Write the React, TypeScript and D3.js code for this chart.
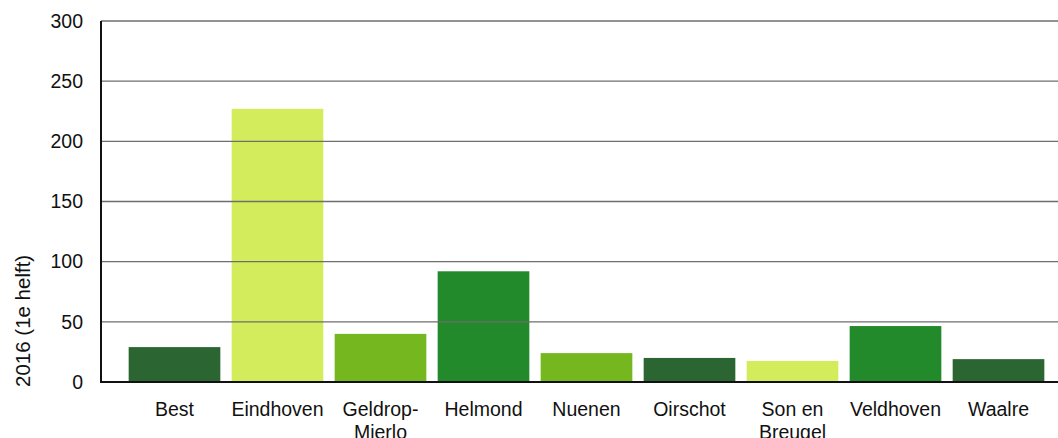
import * as d3 from "d3";
import { useEffect, useRef } from "react";

const categories = [
  ["Best"],
  ["Eindhoven"],
  ["Geldrop-", "Mierlo"],
  ["Helmond"],
  ["Nuenen"],
  ["Oirschot"],
  ["Son en", "Breugel"],
  ["Veldhoven"],
  ["Waalre"],
];
const values = [29, 227, 40, 92, 24, 20, 17.5, 46.5, 19];
const barColors = [
  "#2b6531",
  "#d3ec5c",
  "#74b71f",
  "#238a2b",
  "#74b71f",
  "#2b6531",
  "#d3ec5c",
  "#238a2b",
  "#2b6531",
];
const yTicks = [0, 50, 100, 150, 200, 250, 300];
const yTitle = "2016 (1e helft)";

const App = () => {
  const ref = useRef<SVGSVGElement | null>(null);

  useEffect(() => {
    document.body.style.margin = "0";
    const svg = d3.select(ref.current);
    svg.selectAll("*").remove();

    const width = 1058,
      height = 438;
    const left = 101,
      top = 21,
      bottom = 382;

    const x = d3
      .scaleBand<number>()
      .domain(d3.range(values.length))
      .range([123, 1050])
      .paddingInner(0.11)
      .paddingOuter(0.055);
    const y = d3.scaleLinear().domain([0, 300]).range([bottom, top]);

    svg.attr("width", width).attr("height", height).style("display", "block");
    svg.append("rect").attr("width", width).attr("height", height).attr("fill", "#fff");

    svg
      .append("g")
      .selectAll("rect")
      .data(values)
      .enter()
      .append("rect")
      .attr("x", (d, i) => x(i)!)
      .attr("y", (d) => y(d))
      .attr("width", x.bandwidth())
      .attr("height", (d) => y(0) - y(d))
      .attr("fill", (d, i) => barColors[i]);

    // gridlines sit on top of the bars
    svg
      .append("g")
      .selectAll("line")
      .data(yTicks.filter((t) => t > 0))
      .enter()
      .append("line")
      .attr("x1", left)
      .attr("x2", width)
      .attr("y1", (d) => y(d))
      .attr("y2", (d) => y(d))
      .attr("stroke", "#6e6e6e")
      .attr("stroke-width", 1.4);

    svg
      .append("line")
      .attr("x1", left)
      .attr("x2", left)
      .attr("y1", top)
      .attr("y2", bottom)
      .attr("stroke", "#111")
      .attr("stroke-width", 2);
    svg
      .append("line")
      .attr("x1", left - 1)
      .attr("x2", width)
      .attr("y1", bottom)
      .attr("y2", bottom)
      .attr("stroke", "#111")
      .attr("stroke-width", 2);

    const font = "Liberation Sans, Arial, sans-serif";

    svg
      .append("g")
      .selectAll("text")
      .data(yTicks)
      .enter()
      .append("text")
      .attr("x", 83)
      .attr("y", (d) => y(d))
      .attr("dy", "0.35em")
      .attr("text-anchor", "end")
      .attr("font-family", font)
      .attr("font-size", 19.5)
      .attr("fill", "#111")
      .text((d) => d);

    const labels = svg
      .append("g")
      .selectAll("text")
      .data(categories)
      .enter()
      .append("text")
      .attr("x", (d, i) => x(i)! + x.bandwidth() / 2)
      .attr("y", 416)
      .attr("text-anchor", "middle")
      .attr("font-family", font)
      .attr("font-size", 19.5)
      .attr("fill", "#111");
    labels
      .selectAll("tspan")
      .data((d) => d)
      .enter()
      .append("tspan")
      .attr("x", function () {
        return (this.parentNode as SVGTextElement).getAttribute("x");
      })
      .attr("dy", (d, i) => (i === 0 ? 0 : 23))
      .text((d) => d);

    svg
      .append("text")
      .attr("transform", `translate(30, 387) rotate(-90)`)
      .attr("text-anchor", "start")
      .attr("font-family", font)
      .attr("font-size", 20.5)
      .attr("fill", "#111")
      .text(yTitle);
  }, []);

  return <svg ref={ref}></svg>;
};

export default App;
